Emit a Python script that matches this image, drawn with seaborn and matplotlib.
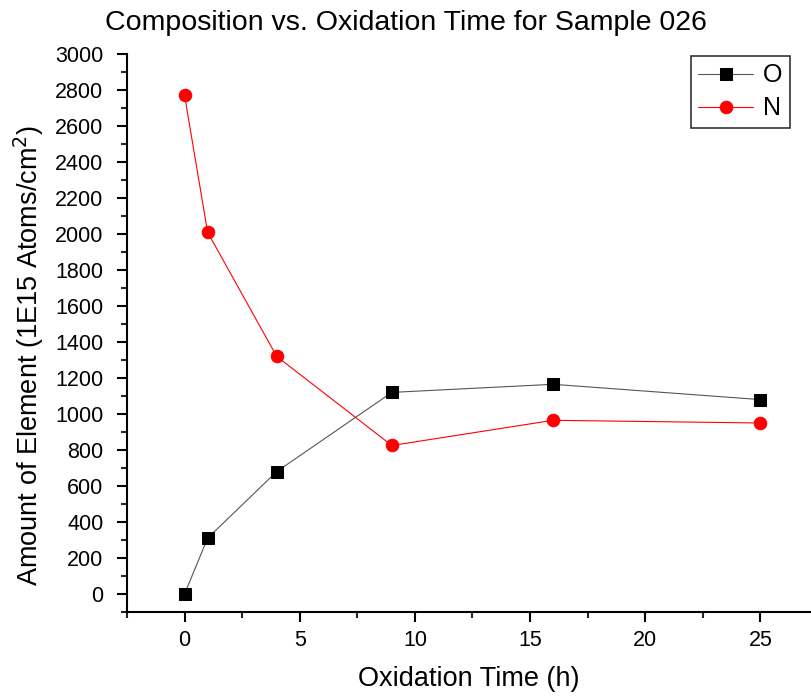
import matplotlib
matplotlib.use('Agg')
import matplotlib.pyplot as plt
from matplotlib.ticker import MultipleLocator
import pandas as pd
import seaborn as sns

# values
time_h = [0, 1, 4, 9, 16, 25]
oxygen = [0, 310, 680, 1120, 1165, 1080]
nitrogen = [2770, 2010, 1320, 825, 965, 950]

sns.set_style('ticks')
plt.rcParams['font.family'] = ['Liberation Sans', 'DejaVu Sans']
plt.rcParams['text.color'] = 'black'
plt.rcParams['axes.labelcolor'] = 'black'

df = pd.DataFrame({'time': time_h, 'O': oxygen, 'N': nitrogen})

fig = plt.figure(figsize=(8.11, 6.96), dpi=100)
ax = fig.add_axes([0.1566, 0.1207, 0.8434, 0.8017])

sns.lineplot(data=df, x='time', y='O', ax=ax, color='#555555', linewidth=0.8,
             marker='s', markersize=8, markerfacecolor='black', markeredgecolor='black',
             label='O')
sns.lineplot(data=df, x='time', y='N', ax=ax, color='red', linewidth=0.8,
             marker='o', markersize=9, markerfacecolor='red', markeredgecolor='red',
             label='N')

ax.set_xlim(-2.5, 27.2)
ax.set_ylim(-100, 3000)
ax.xaxis.set_major_locator(MultipleLocator(5))
ax.xaxis.set_minor_locator(MultipleLocator(2.5))
ax.yaxis.set_major_locator(MultipleLocator(200))
ax.yaxis.set_minor_locator(MultipleLocator(100))
ax.tick_params(which='major', direction='out', length=7, width=1.5, labelsize=15.5,
               colors='black', pad=6)
ax.tick_params(which='minor', direction='out', length=4, width=1.5)
ax.tick_params(axis='y', which='major', pad=10)
for s in ['left', 'bottom']:
    ax.spines[s].set_linewidth(1.5)
    ax.spines[s].set_color('black')
sns.despine(ax=ax)

ax.set_xlabel('Oxidation Time (h)', fontsize=19.5, labelpad=11)
ax.set_ylabel('Amount of Element (1E15 Atoms/cm$^2$)', fontsize=19.5)
ax.yaxis.set_label_coords(-0.118, 0.46)
fig.suptitle('Composition vs. Oxidation Time for Sample 026', fontsize=20.5, y=0.985)

leg = ax.legend(loc='upper right', bbox_to_anchor=(790 / 811, 1 - 56 / 696),
                bbox_transform=fig.transFigure, borderaxespad=0,
                fontsize=18, frameon=True, fancybox=False, edgecolor='black',
                handlelength=2.2, handletextpad=0.4, borderpad=0.3, labelspacing=0.35)
leg.get_frame().set_linewidth(1.2)

fig.savefig('out.png', dpi=100)
